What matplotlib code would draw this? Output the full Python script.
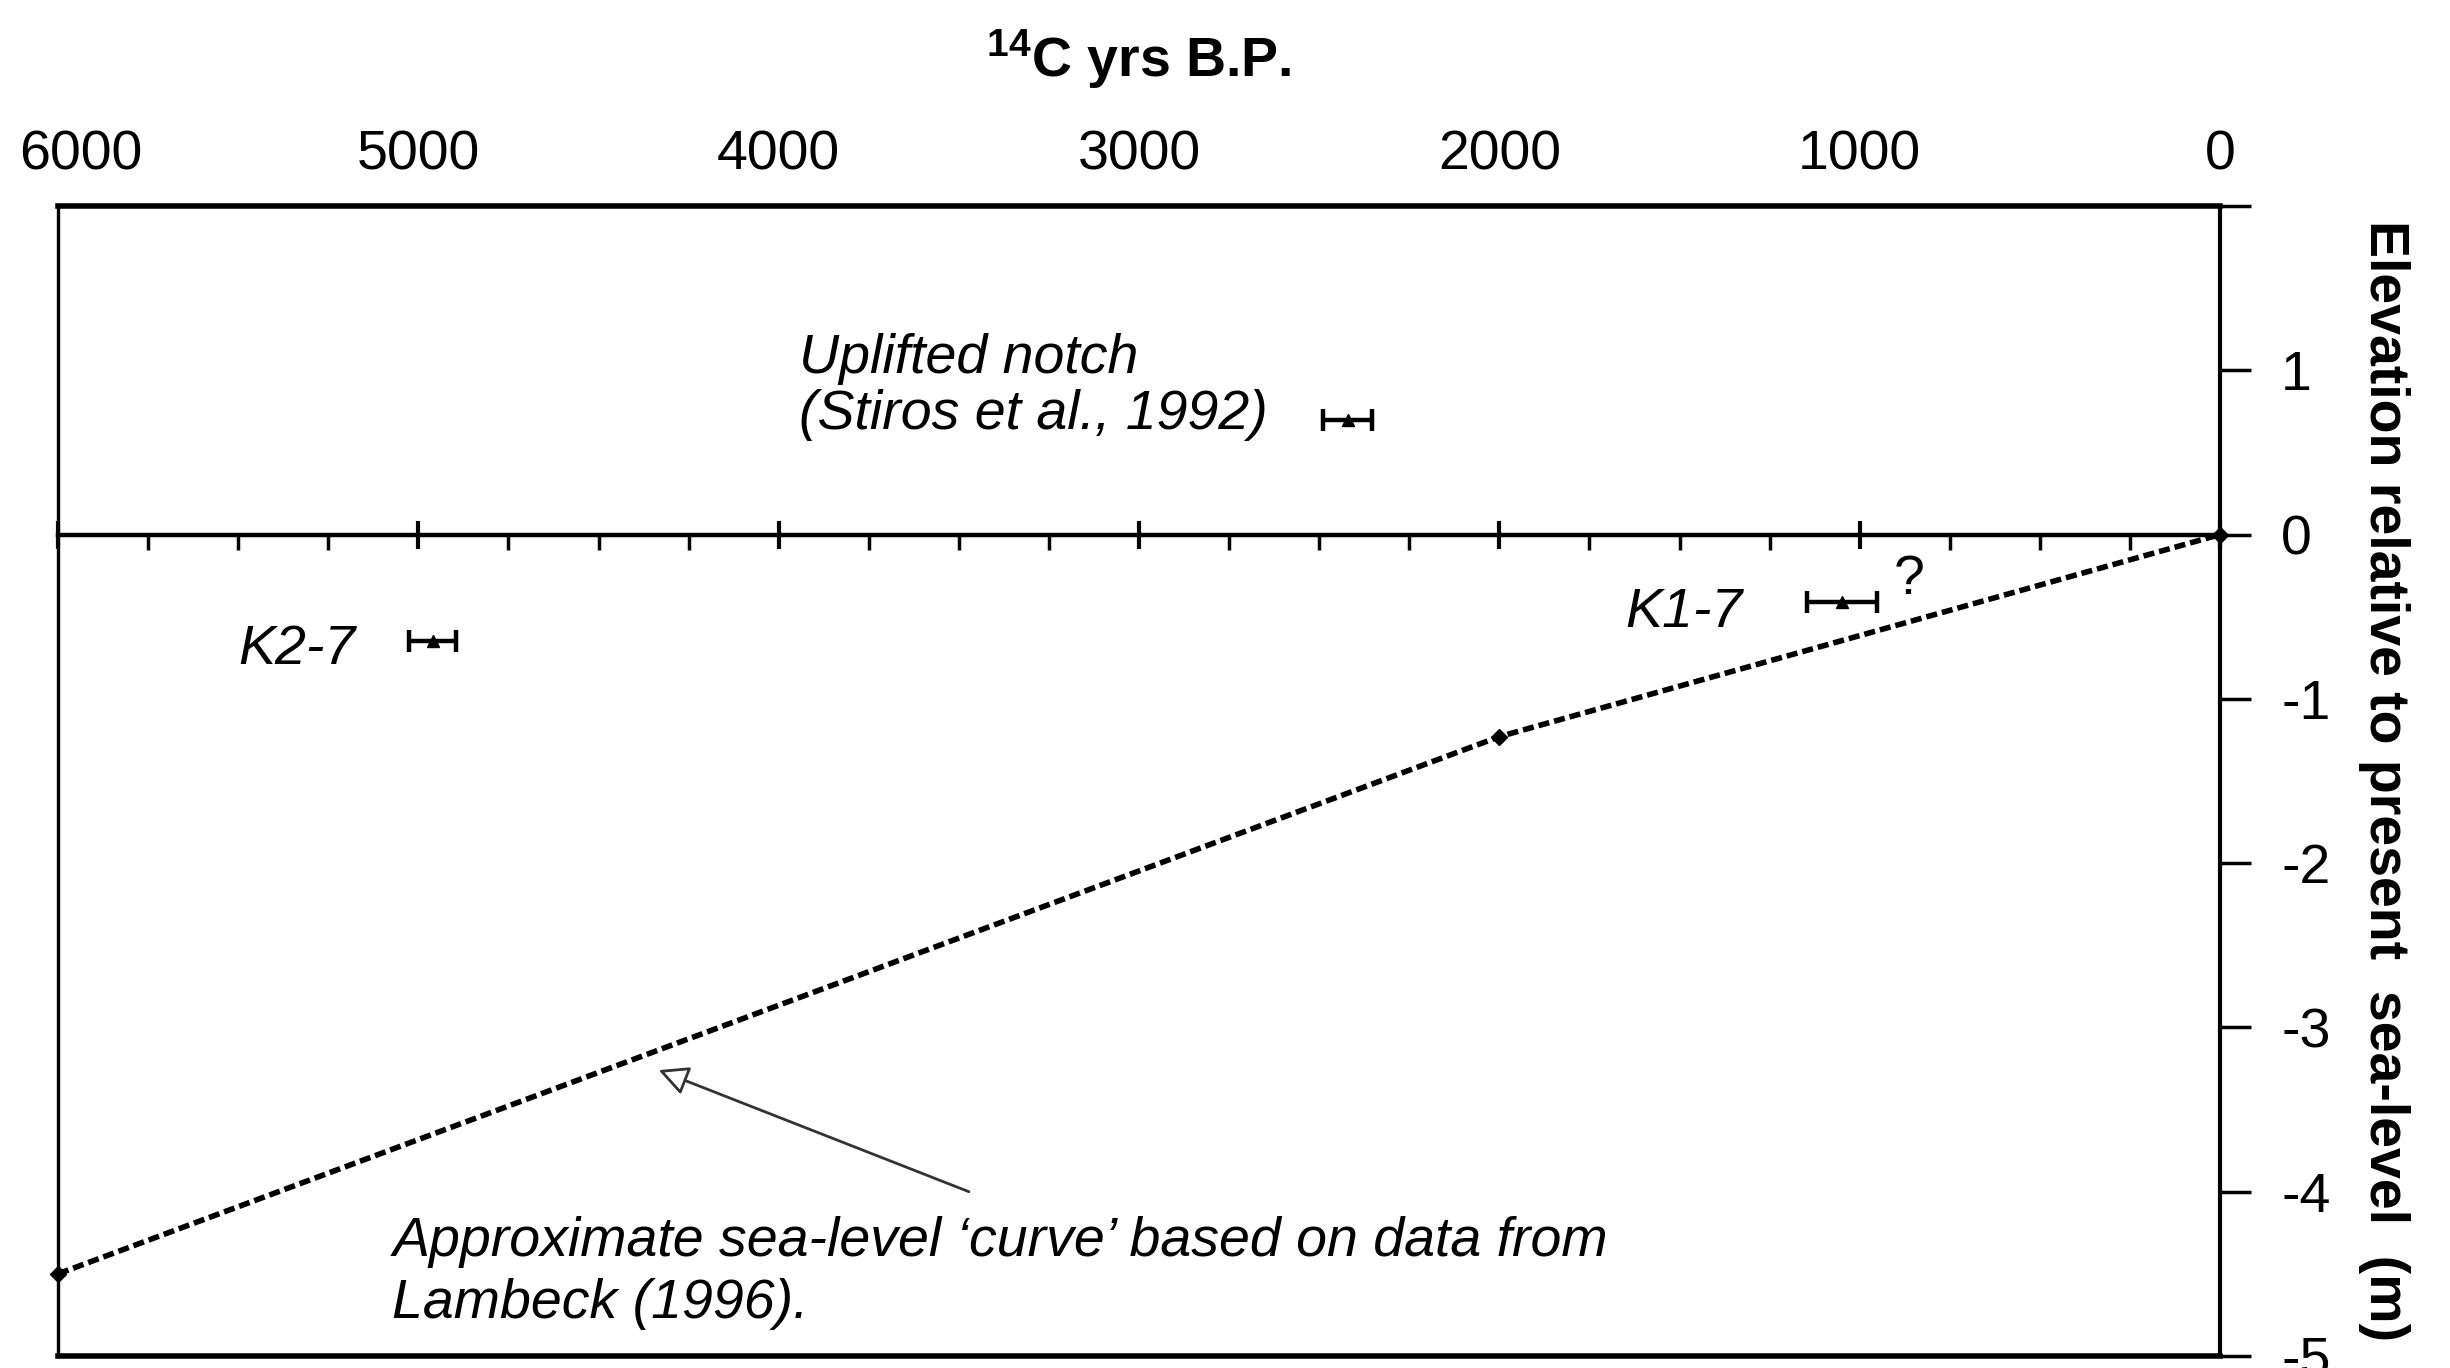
import matplotlib
matplotlib.use("Agg")
import matplotlib.pyplot as plt
import matplotlib.transforms as mtransforms
from matplotlib.ticker import MultipleLocator, FixedLocator, FuncFormatter

plt.rcParams['font.family'] = ['Liberation Sans', 'DejaVu Sans']
plt.rcParams['axes.unicode_minus'] = False
plt.rcParams['mathtext.fontset'] = 'custom'
plt.rcParams['mathtext.rm'] = 'Liberation Sans'
plt.rcParams['mathtext.bf'] = 'Liberation Sans:bold'

# approximate sea-level curve (Lambeck 1996)
curve_age = [6000, 2000, 0]
curve_elev = [-4.5, -1.23, 0.0]

# dated samples: uplifted notch, K2-7, K1-7
sample_age = [2420, 4960, 1050]
sample_age_err = [68, 65, 97]
sample_elev = [0.70, -0.65, -0.41]

x_ticks = [6000, 5000, 4000, 3000, 2000, 1000, 0]
y_ticks = [2, 1, 0, -1, -2, -3, -4, -5]

fig = plt.figure(figsize=(24.5, 13.68), dpi=100)
ax = fig.add_axes([58 / 2450, 12 / 1368, 2162 / 2450, 1150 / 1368])

ax.set_xlim(6000, 0)
ax.set_ylim(-5, 2)

# sea-level curve
ax.plot(curve_age, curve_elev, color='black', lw=4, dashes=(2.0, 0.9),
        marker='D', markersize=8, clip_on=False, zorder=3)

# samples with age error bars
ax.errorbar(sample_age, sample_elev, xerr=sample_age_err, fmt='^', color='black',
            markersize=8, elinewidth=3.2, capsize=8, capthick=3.2, zorder=4)

# zero line carries the x ticks, labels sit on top
ax.spines['bottom'].set_position(('data', 0))
ax.spines['bottom'].set_linewidth(3.2)
ax.spines['top'].set_linewidth(4)
ax.spines['left'].set_linewidth(2.4)
ax.spines['right'].set_linewidth(3)
ax.axhline(-5, color='black', lw=4, clip_on=False)

ax.xaxis.set_major_locator(FixedLocator(x_ticks))
ax.xaxis.set_minor_locator(MultipleLocator(250))
ax.tick_params(axis='x', which='major', direction='inout', length=20, width=3,
               top=False, bottom=True, labeltop=True, labelbottom=False,
               labelsize=40, pad=8)
ax.tick_params(axis='x', which='minor', direction='out', length=11, width=2.5,
               top=False, bottom=True)
ax.xaxis.set_major_formatter(FuncFormatter(lambda v, p: f"{int(v)}"))

lbl6000 = ax.get_xticklabels()[0]
lbl6000.set_transform(lbl6000.get_transform() +
                      mtransforms.ScaledTranslation(0.23, 0, fig.dpi_scale_trans))

ax.yaxis.tick_right()
ax.yaxis.set_label_position('right')
ax.yaxis.set_major_locator(FixedLocator(y_ticks))
ax.yaxis.set_major_formatter(FuncFormatter(lambda v, p: '' if v == 2 else f"{int(v)}"))
ax.tick_params(axis='y', direction='out', length=22, width=2.5, labelsize=40, pad=22)
ax.tick_params(axis='y', left=False, labelleft=False)

ax.xaxis.set_label_position('top')
ax.set_xlabel(r"$\mathbf{{}^{14}}$C yrs B.P.", fontsize=40, fontweight='bold', labelpad=38)
ax.set_ylabel("Elevation relative to present  sea-level  (m)", fontsize=40,
              fontweight='bold', rotation=-90, va='bottom', labelpad=20)

# annotations (y is the baseline of the last line)
ax.text(3944, 0.64, "Uplifted notch\n(Stiros et al., 1992)", fontsize=40,
        style='italic', ha='left', va='baseline', linespacing=1.1)
ax.text(5175, -0.79, "K2-7", fontsize=40, style='italic', ha='right', va='baseline')
ax.text(1325, -0.56, "K1-7", fontsize=40, style='italic', ha='right', va='baseline')
ax.text(905, -0.36, "?", fontsize=40, ha='left', va='baseline')
ax.text(5072, -4.77, "Approximate sea-level \u2018curve\u2019 based on data from\nLambeck (1996).",
        fontsize=40, style='italic', ha='left', va='baseline', linespacing=1.25)

ax.annotate('', xy=(4333, -3.26), xytext=(3472, -4.0),
            arrowprops=dict(arrowstyle='-|>', lw=2, edgecolor='#333333',
                            facecolor='white', mutation_scale=45,
                            shrinkA=0, shrinkB=0))

fig.savefig("out.png", dpi=100, facecolor='white')
plt.close(fig)
